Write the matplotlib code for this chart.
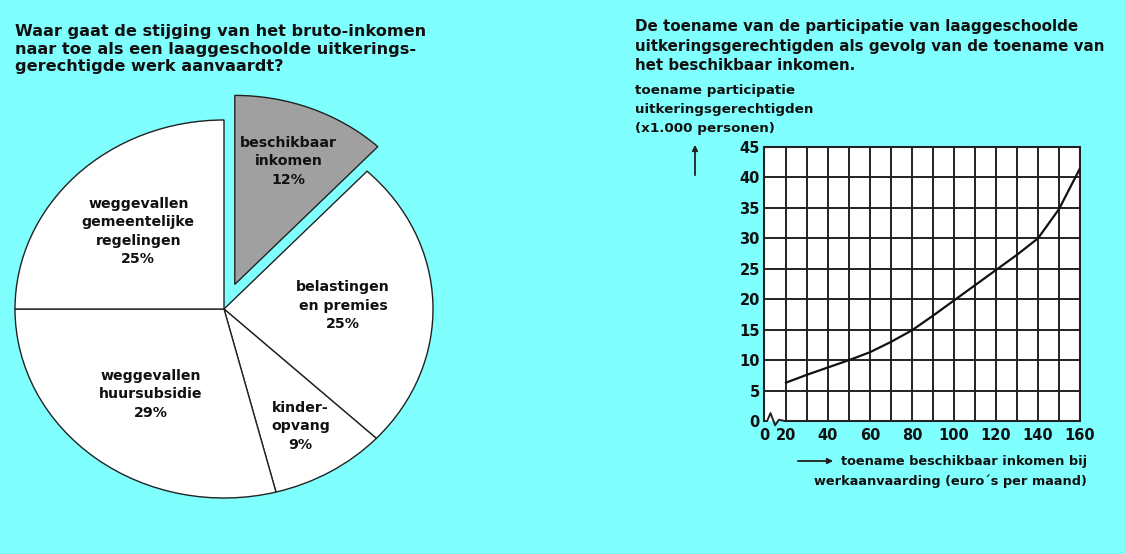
import matplotlib
matplotlib.use("Agg")
import matplotlib.pyplot as plt
import numpy as np

# ---------------- data ----------------
pie_labels = ["beschikbaar\ninkomen\n12%", "belastingen\nen premies\n25%",
              "kinder-\nopvang\n9%", "weggevallen\nhuursubsidie\n29%",
              "weggevallen\ngemeentelijke\nregelingen\n25%"]
pie_values = [12, 25, 9, 29, 25]
pie_explode = [0.14, 0, 0, 0, 0]

x_income = [20, 30, 40, 50, 60, 70, 80, 90, 100, 110, 120, 130, 140, 150, 160]
y_particip = [6.3, 7.6, 8.8, 10.0, 11.3, 13.0, 14.9, 17.3, 19.8, 22.3, 24.8, 27.3, 30.0, 34.8, 41.5]

x_tick_vals = [20, 40, 60, 80, 100, 120, 140, 160]
y_tick_vals = [0, 5, 10, 15, 20, 25, 30, 35, 40, 45]

title_left = "Waar gaat de stijging van het bruto-inkomen\nnaar toe als een laaggeschoolde uitkerings-\ngerechtigde werk aanvaardt?"
title_right = "De toename van de participatie van laaggeschoolde\nuitkeringsgerechtigden als gevolg van de toename van\nhet beschikbaar inkomen."
ylabel_text = "toename participatie\nuitkeringsgerechtigden\n(x1.000 personen)"
xlabel_line1 = "toename beschikbaar inkomen bij"
xlabel_line2 = "werkaanvaarding (euro\u00b4s per maand)"

# ---------------- figure ----------------
W, H = 1125, 554
BG = "#80FFFF"
fig = plt.figure(figsize=(W / 100, H / 100), dpi=100, facecolor=BG)
FONT = "DejaVu Sans"


def px_axes(left, top, right, bottom):
    return fig.add_axes([left / W, 1 - bottom / H, (right - left) / W, (bottom - top) / H])


def fx(x):
    return x / W


def fy(y):
    return 1 - y / H


# titles
fig.text(fx(15), fy(24), title_left, ha="left", va="top", fontsize=11.6,
         fontweight="bold", family=FONT, linespacing=1.22, color="#111")
fig.text(fx(635), fy(19), title_right, ha="left", va="top", fontsize=10.9,
         fontweight="bold", family=FONT, linespacing=1.38, color="#111")

# ---------------- pie ----------------
cx, cy, rx, ry = 224, 309, 209, 189
xl = (-1.03, 1.03)
yl = (-1.03, 1.16)
axp = px_axes(cx + xl[0] * rx, cy - yl[1] * ry, cx + xl[1] * rx, cy - yl[0] * ry)
axp.set_facecolor("none")
colors = ["#A0A0A0", "white", "white", "white", "white"]
wedges, _ = axp.pie(pie_values, explode=pie_explode, startangle=90, counterclock=False,
                    colors=colors, wedgeprops=dict(edgecolor="#222", linewidth=1.0),
                    radius=1.0)
axp.set_aspect("auto")
axp.set_xlim(*xl)
axp.set_ylim(*yl)
axp.axis("off")

label_r = [0.70, 0.57, 0.72, 0.57, 0.58]
for w, lab, r in zip(wedges, pie_labels, label_r):
    th = np.deg2rad((w.theta1 + w.theta2) / 2)
    x0, y0 = w.center
    axp.text(x0 + r * np.cos(th), y0 + r * np.sin(th), lab, ha="center", va="center",
             fontsize=10.2, fontweight="bold", family=FONT, linespacing=1.42, color="#111")

# ---------------- line chart ----------------
ax = px_axes(764, 147, 1080, 421)
ax.set_facecolor("white")
ax.set_xlim(9.5, 160)
ax.set_ylim(0, 45)
grid_kw = dict(color="#222", linewidth=1.4, zorder=1)
for gx in range(20, 160, 10):
    ax.axvline(gx, **grid_kw)
for gy in y_tick_vals[1:-1]:
    ax.axhline(gy, xmin=0, xmax=1, **grid_kw)
ax.plot(x_income, y_particip, color="#111", linewidth=1.6, zorder=3)

for side in ("left", "right", "top"):
    ax.spines[side].set_linewidth(1.5)
    ax.spines[side].set_color("#222")
ax.spines["bottom"].set_visible(False)
# bottom axis line with break symbol
ax.plot([19.5, 160], [0, 0], color="#222", linewidth=1.5, clip_on=False, zorder=4)
zx = [9.5, 11.0, 12.6, 14.8, 16.6, 19.5]
zy = [0, 0, 1.3, -0.7, 0.2, 0.0]
ax.plot(zx, zy, color="#222", linewidth=1.4, clip_on=False, zorder=4)

ax.set_xticks([9.5] + x_tick_vals)
ax.set_xticklabels(["0"] + [str(v) for v in x_tick_vals])
ax.set_yticks(y_tick_vals)
ax.set_yticklabels([str(v) for v in y_tick_vals])
ax.tick_params(axis="y", length=0, pad=3, labelsize=10.5, labelcolor="#111")
ax.tick_params(axis="x", length=0, pad=5, labelsize=10.5, labelcolor="#111")
for t in ax.get_xticklabels() + ax.get_yticklabels():
    t.set_fontweight("bold")
    t.set_family(FONT)

# y label and arrow
fig.text(fx(635), fy(84), ylabel_text, ha="left", va="top", fontsize=9.7,
         fontweight="bold", family=FONT, linespacing=1.6, color="#111")
fig.add_artist(matplotlib.patches.FancyArrowPatch((fx(695), fy(178)), (fx(695), fy(142)),
                                                  transform=fig.transFigure, arrowstyle="-|>",
                                                  mutation_scale=8, color="#222", linewidth=1.3))
# x label and arrow
fig.add_artist(matplotlib.patches.FancyArrowPatch((fx(795), fy(461)), (fx(836), fy(461)),
                                                  transform=fig.transFigure, arrowstyle="-|>",
                                                  mutation_scale=8, color="#222", linewidth=1.3))
fig.text(fx(1087), fy(461), xlabel_line1, ha="right", va="center", fontsize=9.3,
         fontweight="bold", family=FONT, color="#111")
fig.text(fx(1087), fy(481), xlabel_line2, ha="right", va="center", fontsize=9.3,
         fontweight="bold", family=FONT, color="#111")

fig.savefig("out.png", dpi=100, facecolor=BG)
